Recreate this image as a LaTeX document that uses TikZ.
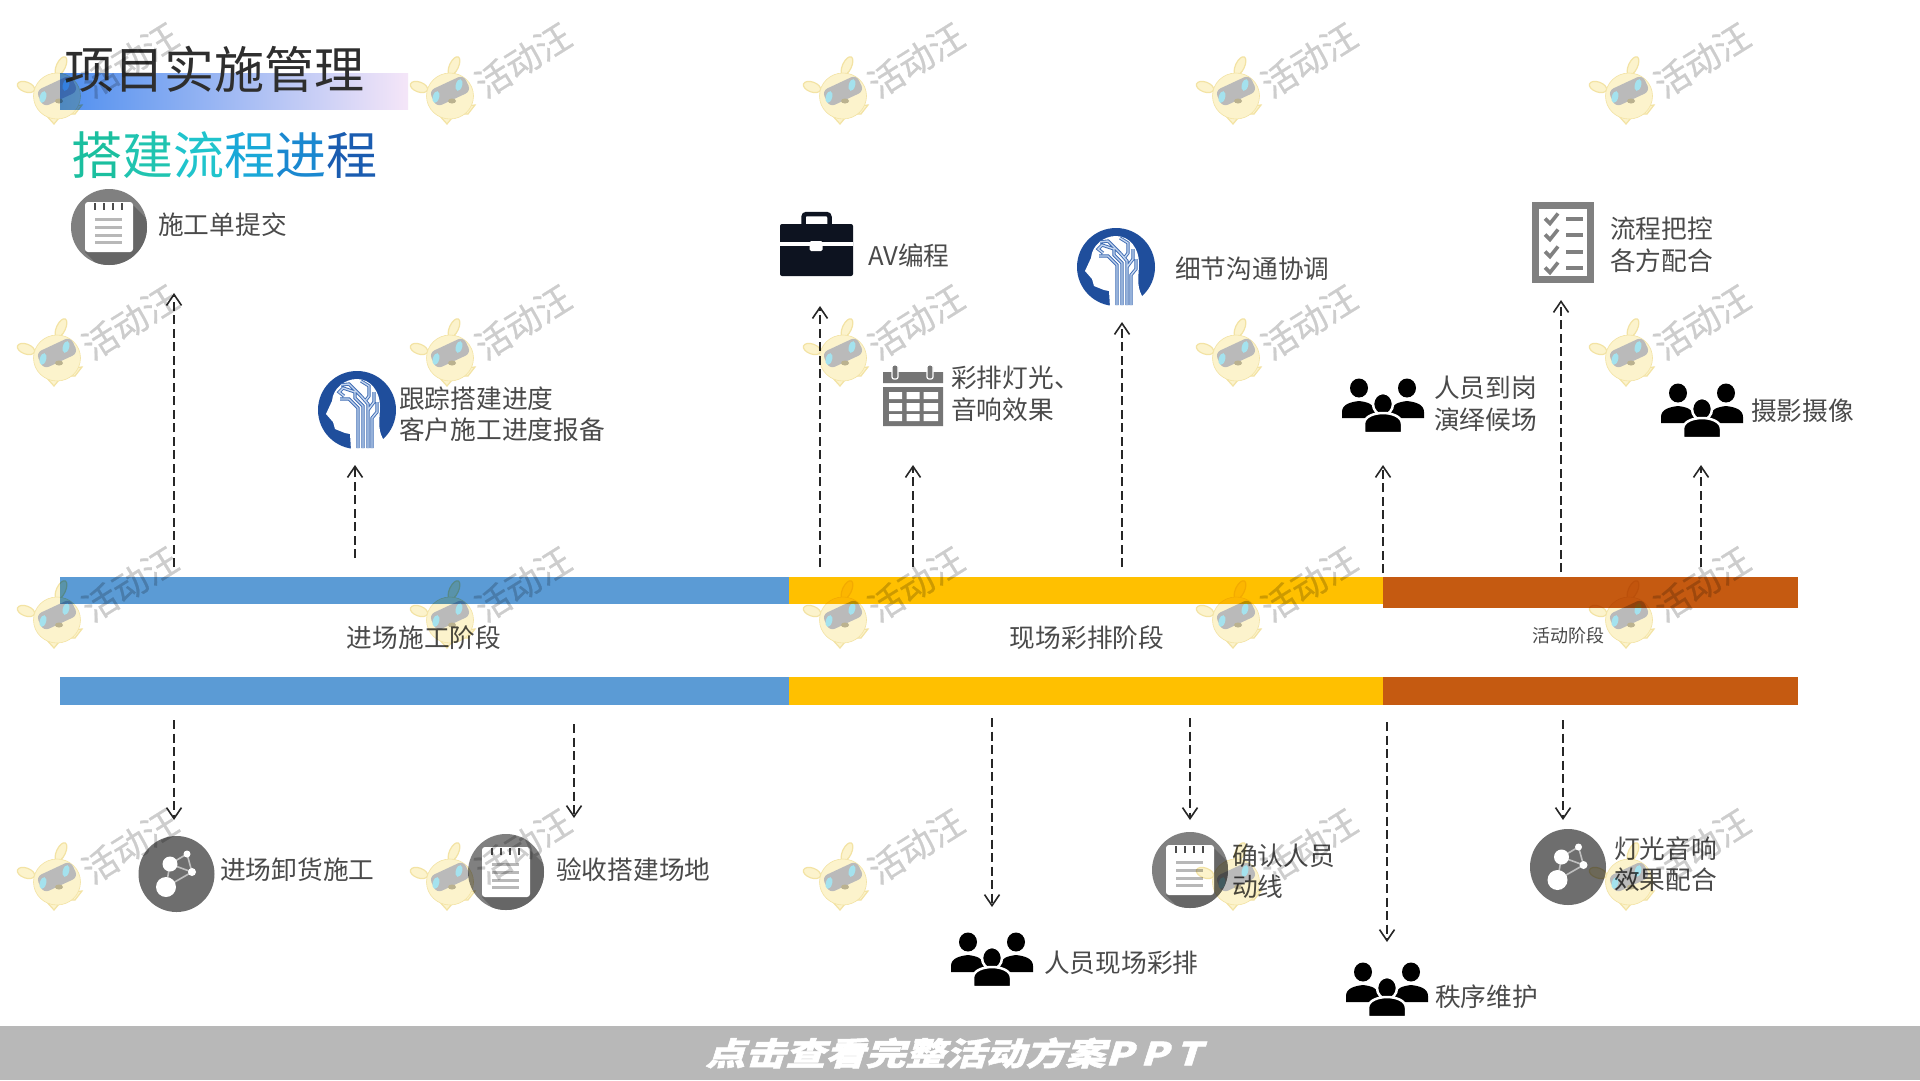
\documentclass[tikz,border=0pt]{standalone}
\usepackage{xcolor}
\usepackage{fontspec}
\usepackage{tikz}
\usetikzlibrary{arrows.meta}
\setmainfont{Noto Sans CJK SC}

\definecolor{barblue}{HTML}{5B9BD5}
\definecolor{baryellow}{HTML}{FFC000}
\definecolor{barorange}{HTML}{C55A11}
\definecolor{txtgray}{HTML}{4A4A4A}
\definecolor{titlegray}{HTML}{2E2E2E}
\definecolor{footgray}{HTML}{B8B8B8}
\definecolor{gradleft}{HTML}{4F8FEF}
\definecolor{gradmid}{HTML}{A5C8F4}
\definecolor{gradright}{HTML}{F5E6F8}
\definecolor{iconnote}{HTML}{808080}
\definecolor{iconshade}{HTML}{666666}
\definecolor{iconnet}{HTML}{6E6E6E}
\definecolor{iconcal}{HTML}{757575}
\definecolor{brainblue}{HTML}{1F4E9C}
\definecolor{brainedge}{HTML}{3E6CB4}
\definecolor{brainline}{HTML}{C5D6EF}
\definecolor{casedark}{HTML}{0D1320}
\definecolor{wmyellow}{HTML}{FCF3CC}
\definecolor{wmedge}{HTML}{F3E3A4}
\definecolor{wmgray}{HTML}{CDCDCD}
\definecolor{wmvisor}{HTML}{BABABA}
\definecolor{wmeye}{HTML}{A4E2EE}

\tikzset{
    txtlbl/.style={anchor=west, inner sep=0pt, text=txtgray, align=left, font=\fontsize{25.7}{31.5}\selectfont},
    stagelbl/.style={inner sep=0pt, text=txtgray, font=\fontsize{25.7}{30}\selectfont},
    barbox/.style={rectangle, inner sep=0pt, anchor=north west, minimum height=28pt},
    dasharrow/.style={-{Straight Barb[length=11pt,width=15pt,line width=1.6pt]}, line width=1.5pt, draw=black!85, dash pattern=on 9pt off 4.5pt},
    noteicon/.pic={
        \fill[iconnote] (0,0) circle (38);
        \begin{scope}
            \clip (0,0) circle (38);
            \fill[iconshade] (24,-22) -- (60,14) -- (60,60) -- (10,60) -- (-24,25) -- cycle;
        \end{scope}
        \fill[white, rounded corners=3pt] (-24,-25) rectangle (24,25);
        \draw[line width=1.8pt, black!70] (-14,-24) -- (-14,-17) (-5,-24) -- (-5,-17) (4,-24) -- (4,-17) (13,-24) -- (13,-17);
        \draw[line width=2.6pt, black!28] (-14,-7.5) -- (13,-7.5) (-14,0.5) -- (13,0.5) (-14,8.5) -- (13,8.5) (-14,15.5) -- (13,15.5);
    },
    neticon/.pic={
        \fill[iconnet] (0,0) circle (38);
        \draw[line width=1.6pt, black!25] (-10.5,13) -- (15.5,-2) -- (10.5,-20) -- (-6.5,-10) -- (15.5,-2) (-10.5,13) -- (-6.5,-10);
        \fill[white] (-10.5,13) circle (10) (-6.5,-10) circle (7.5) (10.5,-20) circle (3.5) (15.5,-2) circle (4);
    },
    brainicon/.pic={
        \fill[brainblue] (0,0) circle (39);
        \fill[white] (-6,40) -- (-7,24) -- (-12,23) -- (-22,19) -- (-24,12) -- (-31,4) -- (-25,-9) .. controls (-24,-22) and (-12,-31) .. (0,-31) .. controls (14,-31) and (23,-18) .. (23,-4) .. controls (23,8) and (20,18) .. (26,29) -- (38,40) -- cycle;
        \draw[draw=brainedge, double=brainline, double distance=1.4pt, line width=.9pt]
            (1,38) -- (1,-2) -- (-8,-11) -- (-17,-11)
            (6,38) -- (6,-4) -- (-2,-12) -- (-2,-18) -- (-14,-22) -- (-18,-18) -- (-13,-14)
            (11,38) -- (11,-6) -- (4,-14) -- (-8,-26) -- (-16,-25)
            (15,38) -- (15,8) -- (20,2) -- (20,-8)
            (11,0) -- (17,-8) -- (17,-18)
            (9,-10) -- (12,-14) -- (12,-24) -- (4,-29);
    },
    peopleicon/.pic={
        \fill[black] (-24,-18) ellipse (9 and 9.5) (24,-18) ellipse (9 and 9.5);
        \fill[black] (-41,12) -- (-41,6) .. controls (-41,-2) and (-32,-4) .. (-24,-5) .. controls (-16,-4) and (-8,-2) .. (-8,6) -- (-8,12) -- cycle;
        \fill[black] (41,12) -- (41,6) .. controls (41,-2) and (32,-4) .. (24,-5) .. controls (16,-4) and (8,-2) .. (8,6) -- (8,12) -- cycle;
        \filldraw[black, draw=white, line width=2.5pt] (0,-2) ellipse (10 and 11);
        \filldraw[black, draw=white, line width=2.5pt] (-19,27) -- (-19,18) .. controls (-19,10) and (-8,7) .. (0,7) .. controls (8,7) and (19,10) .. (19,18) -- (19,27) -- cycle;
    },
    caseicon/.pic={
        \draw[casedark, line width=4.5pt, rounded corners=3pt] (-13,-20) -- (-13,-30) -- (13,-30) -- (13,-20);
        \fill[casedark, rounded corners=2pt] (-36.5,-20) rectangle (36.5,32);
        \fill[white] (-36.5,-2.3) rectangle (36.5,2);
        \fill[white, rounded corners=1.5pt] (-7,-3) rectangle (6,7);
    },
    calicon/.pic={
        \fill[iconcal] (-30,-24) rectangle (30,-13) (-30,-9) rectangle (30,30);
        \filldraw[iconcal, draw=white, line width=1.2pt, rounded corners=2pt] (-21,-31) rectangle (-15,-17);
        \filldraw[iconcal, draw=white, line width=1.2pt, rounded corners=2pt] (14,-31) rectangle (20,-17);
        \fill[white] (-24,-4) rectangle (-11,3) (-6.5,-4) rectangle (6.5,3) (10.5,-4) rectangle (25,3)
            (-24,7) rectangle (-11,15) (-6.5,7) rectangle (6.5,15) (10.5,7) rectangle (25,15)
            (-24,18) rectangle (-11,25) (-6.5,18) rectangle (6.5,25) (10.5,18) rectangle (25,25);
    },
    checkicon/.pic={
        \draw[iconnote, line width=7pt] (-27.5,-37) rectangle (27.5,37);
        \draw[iconnote, line width=3.6pt] (-18,-24) -- (-13,-19) -- (-5,-29) (-18,-8) -- (-13,-3) -- (-5,-13) (-18,9) -- (-13,14) -- (-5,4) (-18,25) -- (-13,30) -- (-5,20);
        \draw[iconnote, line width=3.6pt] (3,-23.5) -- (20,-23.5) (3,-7.5) -- (20,-7.5) (3,9.5) -- (20,9.5) (3,25.5) -- (20,25.5);
    },
    wmark/.pic={
        \filldraw[wmyellow, draw=wmedge, line width=1.2pt, shift={(4,-30)}, rotate=-25] (0,0) ellipse (4.5 and 10);
        \filldraw[wmyellow, draw=wmedge, line width=1.2pt, shift={(-31,-9)}, rotate=-20] (0,0) ellipse (9 and 5);
        \filldraw[wmyellow, draw=wmedge, line width=1.2pt] (-3,28) -- (-12,18) -- (18,18) -- (25,9) -- (12,10) -- cycle;
        \filldraw[wmyellow, draw=wmedge, line width=.6pt] (0,0) ellipse (23.5 and 23);
        \fill[wmvisor, rounded corners=6pt, shift={(0,-5)}, rotate=25] (-19,-9) rectangle (19,9);
        \fill[wmeye, shift={(-14,1)}, rotate=-15] (0,0) ellipse (3.2 and 6);
        \fill[wmeye, shift={(9,-11)}, rotate=-15] (0,0) ellipse (3.2 and 6);
        \fill[wmedge!70!black!80] (2,5) ellipse (4 and 2.5);
        \node[rotate=32, inner sep=0pt, text=wmgray, font=\addfontfeature{FakeBold=0.6}\fontsize{35}{35}\selectfont] at (73,-36) {活动汪};
    },
}

\begin{document}
\begin{tikzpicture}[x=1pt, y=-1pt]
    \useasboundingbox (0,0) rectangle (1920,1080);
    \fill[white] (0,0) rectangle (1920,1080);

    \node[rectangle, inner sep=0pt, anchor=north west, minimum width=348pt, minimum height=36pt, left color=gradleft, middle color=gradmid, right color=gradright] (titlebar) at (60,73) {};
    \node[anchor=west, inner sep=0pt, text=titlegray, font=\fontsize{50}{50}\selectfont] (title) at (64,69) {项目实施管理};
    \node[anchor=west, inner sep=0pt, font=\fontsize{51}{51}\selectfont] (subtitle) at (71,155) {\textcolor[HTML]{1BBF9F}{搭}\textcolor[HTML]{20C4B0}{建}\textcolor[HTML]{20C4CC}{流}\textcolor[HTML]{1AA8D8}{程}\textcolor[HTML]{1A88D0}{进}\textcolor[HTML]{1A5CB0}{程}};

    \node[barbox, fill=barblue, minimum width=729pt, minimum height=27pt] (topblue) at (60,577) {};
    \node[barbox, fill=baryellow, minimum width=594pt, minimum height=27pt] (topyellow) at (789,577) {};
    \node[barbox, fill=barorange, minimum width=415pt, minimum height=31pt] (toporange) at (1383,577) {};
    \node[barbox, fill=barblue, minimum width=729pt] (lowblue) at (60,677) {};
    \node[barbox, fill=baryellow, minimum width=594pt] (lowyellow) at (789,677) {};
    \node[barbox, fill=barorange, minimum width=415pt] (loworange) at (1383,677) {};

    \node[stagelbl] (stagea) at (424,638) {进场施工阶段};
    \node[stagelbl] (stageb) at (1087,638) {现场彩排阶段};
    \node[stagelbl, font=\fontsize{18}{20}\selectfont] (stagec) at (1568,636) {活动阶段};

    \pic at (109,227) {noteicon};
    \node[txtlbl] (submit) at (158,225) {施工单提交};
    \pic at (357,410) {brainicon};
    \node[txtlbl] (track) at (399,414) {跟踪搭建进度\\客户施工进度报备};
    \pic at (816.5,244) {caseicon};
    \node[txtlbl] (avprog) at (868,256) {AV编程};
    \pic at (913,396) {calicon};
    \node[txtlbl] (rehearse) at (951,394) {彩排灯光、\\音响效果};
    \pic at (1116,267) {brainicon};
    \node[txtlbl] (detail) at (1175,269) {细节沟通协调};
    \pic at (1383,406) {peopleicon};
    \node[txtlbl] (standby) at (1434,403.5) {人员到岗\\演绎候场};
    \pic at (1563,242.5) {checkicon};
    \node[txtlbl] (control) at (1610,245) {流程把控\\各方配合};
    \pic at (1702,411) {peopleicon};
    \node[txtlbl] (photo) at (1751,411) {摄影摄像};

    \pic at (176.5,874) {neticon};
    \node[txtlbl] (unload) at (220,870) {进场卸货施工};
    \pic at (506,872) {noteicon};
    \node[txtlbl] (accept) at (556,870) {验收搭建场地};
    \pic at (992,960) {peopleicon};
    \node[txtlbl] (staffrun) at (1044,963) {人员现场彩排};
    \pic at (1190,870) {noteicon};
    \node[txtlbl] (route) at (1232,871) {确认人员\\动线};
    \pic at (1387,990) {peopleicon};
    \node[txtlbl] (order) at (1435,997) {秩序维护};
    \pic at (1568,867) {neticon};
    \node[txtlbl] (effect) at (1614,864) {灯光音响\\效果配合};

    \coordinate (upaf) at (174,567);
    \coordinate (upat) at (174,293);
    \coordinate (upbf) at (355,558);
    \coordinate (upbt) at (355,465);
    \coordinate (upcf) at (820,567);
    \coordinate (upct) at (820,306);
    \coordinate (updf) at (913,567);
    \coordinate (updt) at (913,465);
    \coordinate (upef) at (1122,567);
    \coordinate (upet) at (1122,322);
    \coordinate (upff) at (1383,573);
    \coordinate (upft) at (1383,465);
    \coordinate (upgf) at (1561,572);
    \coordinate (upgt) at (1561,300);
    \coordinate (uphf) at (1701,567);
    \coordinate (upht) at (1701,465);
    \draw[dasharrow] (upaf) -- (upat);
    \draw[dasharrow] (upbf) -- (upbt);
    \draw[dasharrow] (upcf) -- (upct);
    \draw[dasharrow] (updf) -- (updt);
    \draw[dasharrow] (upef) -- (upet);
    \draw[dasharrow] (upff) -- (upft);
    \draw[dasharrow] (upgf) -- (upgt);
    \draw[dasharrow] (uphf) -- (upht);

    \coordinate (dnaf) at (174,720);
    \coordinate (dnat) at (174,820);
    \coordinate (dnbf) at (574,724);
    \coordinate (dnbt) at (574,818);
    \coordinate (dncf) at (992,718);
    \coordinate (dnct) at (992,907);
    \coordinate (dndf) at (1190,718);
    \coordinate (dndt) at (1190,820);
    \coordinate (dnef) at (1387,722);
    \coordinate (dnet) at (1387,942);
    \coordinate (dnff) at (1563,720);
    \coordinate (dnft) at (1563,820);
    \draw[dasharrow] (dnaf) -- (dnat);
    \draw[dasharrow] (dnbf) -- (dnbt);
    \draw[dasharrow] (dncf) -- (dnct);
    \draw[dasharrow] (dndf) -- (dndt);
    \draw[dasharrow] (dnef) -- (dnet);
    \draw[dasharrow] (dnff) -- (dnft);

    \node[rectangle, inner sep=0pt, anchor=north west, fill=footgray, minimum width=1920pt, minimum height=54pt] (footer) at (0,1026) {};
    \node[inner sep=0pt, text=white, xscale=1.25, xslant=0.25, transform shape, font=\bfseries\addfontfeature{FakeBold=1.5}\fontsize{32}{32}\selectfont] (foottext) at (957,1053) {点击查看完整活动方案P\hspace{6pt}P\hspace{6pt}T};

    \begin{scope}[blend mode=multiply]
    \begin{scope}[transparency group]
        \pic at (57,96) {wmark};
        \pic at (450,96) {wmark};
        \pic at (843,96) {wmark};
        \pic at (1236,96) {wmark};
        \pic at (1629,96) {wmark};
        \pic at (57,358) {wmark};
        \pic at (450,358) {wmark};
        \pic at (843,358) {wmark};
        \pic at (1236,358) {wmark};
        \pic at (1629,358) {wmark};
        \pic at (57,620) {wmark};
        \pic at (450,620) {wmark};
        \pic at (843,620) {wmark};
        \pic at (1236,620) {wmark};
        \pic at (1629,620) {wmark};
        \pic at (57,882) {wmark};
        \pic at (450,882) {wmark};
        \pic at (843,882) {wmark};
        \pic at (1236,882) {wmark};
        \pic at (1629,882) {wmark};
    \end{scope}
    \end{scope}
\end{tikzpicture}
\end{document}
